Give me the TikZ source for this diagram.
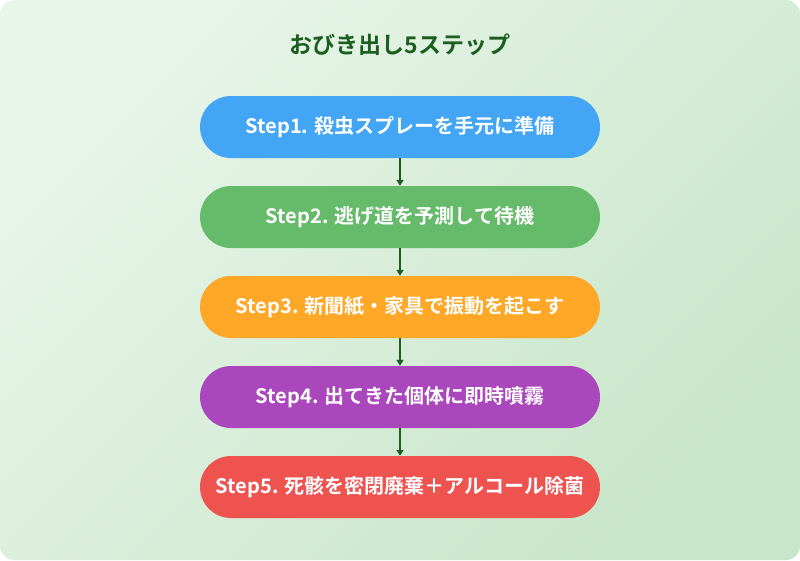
\documentclass[tikz,border=0pt]{standalone}
\usepackage{fontspec}
\setmainfont{Noto Sans CJK JP}[BoldFont={Noto Sans CJK JP Bold}]
\usetikzlibrary{arrows.meta,shadows}
\definecolor{bgA}{HTML}{E8F5E9}\definecolor{bgB}{HTML}{C8E6C9}
\definecolor{ttl}{HTML}{1B5E20}\definecolor{arr}{HTML}{1B5E20}
\definecolor{cA}{HTML}{42A5F5}\definecolor{cB}{HTML}{66BB6A}\definecolor{cC}{HTML}{FFA726}
\definecolor{cD}{HTML}{AB47BC}\definecolor{cE}{HTML}{EF5350}
\tikzset{stepbox/.style={rounded corners=31pt,minimum width=400pt,minimum height=62pt,text=white,font=\bfseries\fontsize{20}{24}\selectfont,inner sep=0pt},
conn/.style={draw=arr,line width=1.5pt,-{Triangle[length=6pt,width=7pt]}}}
\begin{document}
\begin{tikzpicture}[x=1pt,y=-1pt]
\useasboundingbox (0,0) rectangle (800,560);
\shade[left color=bgA,right color=bgB,rounded corners=14pt,shading angle=45] (0,0) rectangle (800,560);
\node[font=\bfseries\fontsize{23}{27}\selectfont,text=ttl] (t) at (400,45) {おびき出し5ステップ};
\node[stepbox,fill=cA] (s1) at (400,127) {Step1. 殺虫スプレーを手元に準備};
\node[stepbox,fill=cB] (s2) at (400,217) {Step2. 逃げ道を予測して待機};
\node[stepbox,fill=cC] (s3) at (400,307) {Step3. 新聞紙・家具で振動を起こす};
\node[stepbox,fill=cD] (s4) at (400,397) {Step4. 出てきた個体に即時噴霧};
\node[stepbox,fill=cE] (s5) at (400,487) {Step5. 死骸を密閉廃棄＋アルコール除菌};
\foreach \a/\b in {s1/s2,s2/s3,s3/s4,s4/s5} \draw[conn] (\a.south) -- (\b.north);
\end{tikzpicture}
\end{document}
